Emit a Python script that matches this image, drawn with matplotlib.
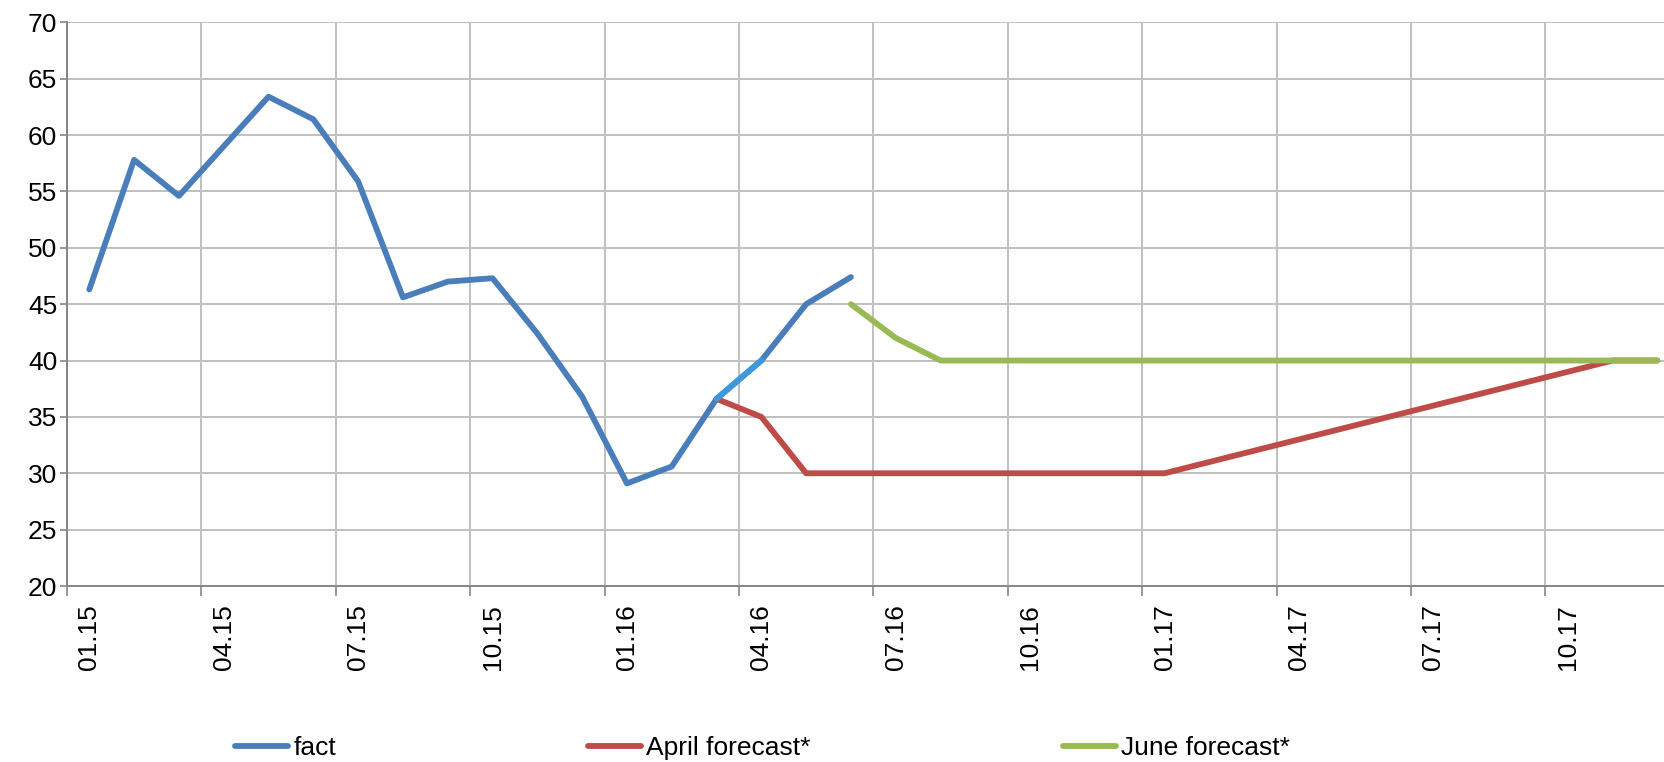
import numpy as np
import matplotlib
matplotlib.use("Agg")
import matplotlib.pyplot as plt
from matplotlib.ticker import FixedLocator

plt.rcParams['font.family'] = ['Liberation Sans', 'DejaVu Sans']

# ---- data ----
months = [f"{m:02d}.{y}" for y in (15, 16, 17) for m in range(1, 13)]
fact = [46.3, 57.8, 54.6, 59.0, 63.4, 61.4, 55.9, 45.6, 47.0, 47.3, 42.4, 36.8,
        29.1, 30.6, 36.6, 40.0, 45.0, 47.4]
fact_start = 0
april = [36.6, 35.0, 30, 30, 30, 30, 30, 30, 30, 30, 30,
         31, 32, 33, 34, 35, 36, 37, 38, 39, 40, 40]
april_start = 14
june = [45.0, 42.0] + [40] * 17
june_start = 17
highlight_idx = [14, 15]  # segment of "fact" drawn lighter

labels_every = 3
y_ticks = list(range(20, 75, 5))

C_BLUE = '#4A7EBB'
C_LBLUE = '#3E98DA'
C_RED = '#BE4B48'
C_GREEN = '#98B954'
C_GRID = '#BFBFBF'
C_AXIS = '#868686'

W, H = 1665, 762
fig = plt.figure(figsize=(W / 100, H / 100), dpi=100)
left, right = 66.9 / W, 1.0
bottom, top = 1 - 586 / H, 1 - 22.3 / H
ax = fig.add_axes([left, bottom, right - left, top - bottom])

lw = 4.2
kw = dict(lw=lw, solid_capstyle='round', solid_joinstyle='round')
x_fact = np.arange(fact_start, fact_start + len(fact))
x_apr = np.arange(april_start, april_start + len(april))
x_jun = np.arange(june_start, june_start + len(june))

ax.plot(x_fact, fact, color=C_BLUE, label='fact', zorder=3, **kw)
ax.plot(x_apr, april, color=C_RED, label='April forecast*', zorder=3, **kw)
ax.plot(x_jun, june, color=C_GREEN, label='June forecast*', zorder=3, **kw)
hx = np.array(highlight_idx)
ax.plot(hx, [fact[i - fact_start] for i in hx], color=C_LBLUE, zorder=4, **kw)

ax.set_ylim(20, 70)
ax.set_xlim(-0.5, 35.17)

# y axis
ax.set_yticks(y_ticks)
ax.tick_params(axis='y', direction='out', length=5, width=1.2, color=C_AXIS,
               labelsize=19, pad=2)

# x axis: tick marks between categories, labels at category centres
bounds = np.arange(-0.5, len(months), labels_every)
ax.xaxis.set_major_locator(FixedLocator(bounds))
ax.xaxis.set_major_formatter(plt.NullFormatter())
lab_pos = np.arange(0, len(months), labels_every)
ax.xaxis.set_minor_locator(FixedLocator(lab_pos))
ax.set_xticklabels([months[i] for i in lab_pos], minor=True, rotation=90,
                   fontsize=19)
ax.tick_params(axis='x', which='major', direction='out', length=7, width=1.2,
               color=C_AXIS)
ax.tick_params(axis='x', which='minor', length=0, pad=13)

ax.grid(True, which='major', color=C_GRID, lw=1.4, zorder=0)
ax.set_axisbelow(True)
for s in ('top', 'right'):
    ax.spines[s].set_visible(False)
for s in ('left', 'bottom'):
    ax.spines[s].set_color(C_AXIS)
    ax.spines[s].set_linewidth(1.4)

leg = fig.legend(loc='center', bbox_to_anchor=(0.458, 1 - 748 / H), ncol=3,
                 frameon=False, fontsize=19, handlelength=2.0,
                 handletextpad=0.2, columnspacing=9.55, borderaxespad=0)
for h in leg.get_lines():
    h.set_linewidth(lw)
    h.set_solid_capstyle('round')

fig.savefig('out.png', dpi=100)
